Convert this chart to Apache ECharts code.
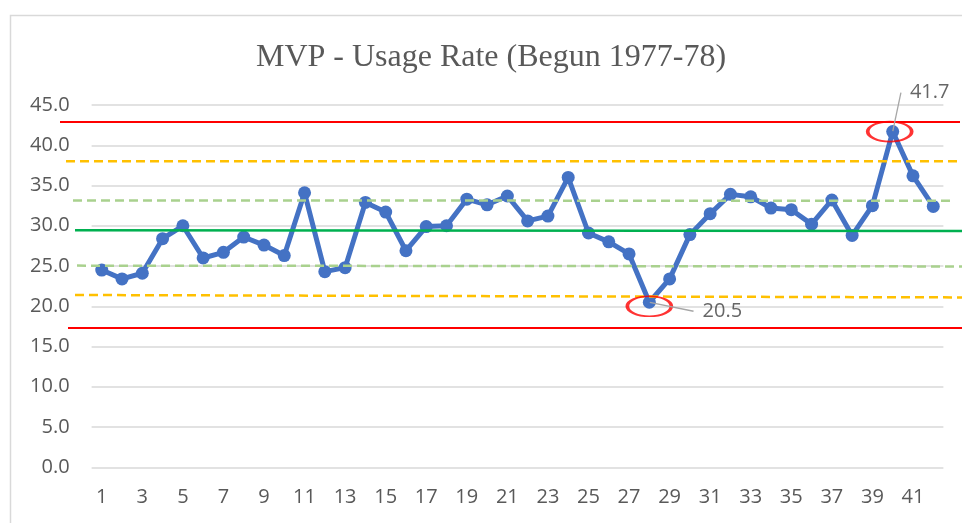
<!DOCTYPE html>
<html>
<head>
<meta charset="utf-8">
<script src="https://cdn.jsdelivr.net/npm/echarts@6/dist/echarts.min.js"></script>
<style>html,body{margin:0;padding:0;background:#fff}#c{width:962px;height:523px}</style>
</head>
<body>
<div id="c"></div>
<script>
// ---- data ----
var categories = [];
for (var k = 1; k <= 42; k++) categories.push(String(k));
var usageRate = [24.5, 23.4, 24.1, 28.4, 30.0, 26.0, 26.7, 28.6, 27.6, 26.3,
                 34.1, 24.3, 24.8, 32.9, 31.7, 26.9, 29.9, 30.0, 33.3, 32.6,
                 33.7, 30.6, 31.2, 36.0, 29.1, 28.0, 26.5, 20.5, 23.4, 28.9,
                 31.5, 33.9, 33.6, 32.2, 32.0, 30.2, 33.2, 28.8, 32.5, 41.7,
                 36.2, 32.4];
var yTicks = [0, 5, 10, 15, 20, 25, 30, 35, 40, 45];
// control limit lines: [value at left, value at right]
var ucl = [42.9, 42.9];
var lcl = [17.3, 17.3];
var upper2 = [38.0, 38.0];
var lower2 = [21.4, 21.1];
var meanLine = [29.45, 29.35];
var upper1 = [33.15, 33.1];
var lower1 = [25.05, 24.95];
// highlighted points (category index)
var highlightIdx = [27, 39];

// ---- layout ----
var W = 962, H = 523;
var gLeft = 91.6, gRight = 18.6, gTop = 105, gBottom = 55.7;
var step = (W - gLeft - gRight) / categories.length;
function px2cat(px) { return (px - gLeft) / step - 0.5; }

var limitDefs = [
  {v: ucl,      x0: 60, x1: 960, color: '#ff0000', width: 2,   type: 'solid'},
  {v: lcl,      x0: 68, x1: 962, color: '#ff0000', width: 2,   type: 'solid'},
  {v: upper2,   x0: 66, x1: 962, color: '#ffc000', width: 2.5, type: [9, 5]},
  {v: lower2,   x0: 75, x1: 962, color: '#ffc000', width: 2.5, type: [9, 5]},
  {v: upper1,   x0: 73, x1: 950, color: '#a9d18e', width: 2.5, type: [9, 5]},
  {v: lower1,   x0: 77, x1: 962, color: '#a9d18e', width: 2.5, type: [9, 5]},
  {v: meanLine, x0: 75, x1: 962, color: '#00b050', width: 2.5, type: 'solid'}
];

var series = [{
  type: 'line', xAxisIndex: 0, yAxisIndex: 0,
  data: usageRate,
  symbol: 'circle', symbolSize: 13,
  lineStyle: {color: '#4472C4', width: 5},
  itemStyle: {color: '#4472C4'},
  z: 2, animation: false
}];
limitDefs.forEach(function (d) {
  series.push({
    type: 'line', xAxisIndex: 1, yAxisIndex: 1,
    data: [[px2cat(d.x0), d.v[0]], [px2cat(d.x1), d.v[1]]],
    symbol: 'none', silent: true,
    lineStyle: {color: d.color, width: d.width, type: d.type},
    z: 3, animation: false
  });
});
var ellipseOffsets = [[0, 4], [-3, 0]];
var labelOffsets = [[73, 9], [37, -39]];
series.push({
  type: 'scatter', xAxisIndex: 0, yAxisIndex: 0,
  data: highlightIdx.map(function (i, n) {
    return {value: [i, usageRate[i]], symbolOffset: ellipseOffsets[n]};
  }),
  symbol: 'circle', symbolSize: [44, 20],
  itemStyle: {color: 'rgba(0,0,0,0)', borderColor: '#ff0000', borderWidth: 2.5},
  z: 5, silent: true, animation: false
});
series.push({
  type: 'scatter', xAxisIndex: 0, yAxisIndex: 0,
  data: highlightIdx.map(function (i) { return [i, usageRate[i]]; }),
  symbol: 'circle', symbolSize: 1,
  itemStyle: {color: 'rgba(0,0,0,0)'},
  label: {show: true, position: 'inside', color: '#404040', fontSize: 20,
          fontFamily: 'Open Sans', padding: [11, 9],
          backgroundColor: 'rgba(255,255,255,0.01)',
          formatter: function (p) { return p.value[1].toFixed(1); }},
  labelLayout: function (p) {
    var o = labelOffsets[p.dataIndex];
    return {dx: o[0], dy: o[1]};
  },
  labelLine: {show: true, lineStyle: {color: '#a6a6a6', width: 1.3}},
  z: 6, silent: true, animation: false
});

var chart = echarts.init(document.getElementById('c'));
chart.setOption({
  animation: false,
  backgroundColor: '#ffffff',
  title: {
    text: 'MVP - Usage Rate (Begun 1977-78)',
    left: 486, top: 37, textAlign: 'center',
    textStyle: {fontFamily: 'Liberation Serif', fontSize: 32, fontWeight: 'normal', color: '#595959'}
  },
  graphic: [{
    type: 'rect', silent: true, z: -10,
    shape: {x: 10.5, y: 15.5, width: 1000, height: 600},
    style: {fill: 'none', stroke: '#d9d9d9', lineWidth: 1.5}
  }],
  grid: [
    {left: gLeft, right: gRight, top: gTop, bottom: gBottom},
    {left: 0, right: 0, top: gTop, bottom: gBottom}
  ],
  xAxis: [{
    type: 'category', gridIndex: 0, data: categories, boundaryGap: true,
    axisLine: {show: false}, axisTick: {show: false},
    axisLabel: {interval: 1, color: '#595959', fontSize: 20, fontFamily: 'Open Sans', margin: 20}
  }, {
    type: 'value', gridIndex: 1, min: px2cat(0), max: px2cat(W), show: false
  }],
  yAxis: [{
    type: 'value', gridIndex: 0, min: yTicks[0], max: yTicks[yTicks.length - 1], interval: yTicks[1] - yTicks[0],
    axisLine: {show: false}, axisTick: {show: false},
    axisLabel: {color: '#595959', fontSize: 20, fontFamily: 'Open Sans', margin: 22,
                formatter: function (v) { return v.toFixed(1); }},
    splitLine: {lineStyle: {color: '#d9d9d9', width: 1.5}}
  }, {
    type: 'value', gridIndex: 1, min: yTicks[0], max: yTicks[yTicks.length - 1], show: false
  }],
  series: series
});
</script>
</body>
</html>
